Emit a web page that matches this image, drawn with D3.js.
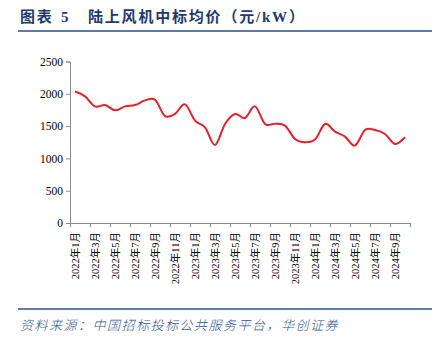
<!DOCTYPE html>
<html><head><meta charset="utf-8">
<script src="https://cdn.jsdelivr.net/npm/d3@7"></script>
<style>
html,body{margin:0;padding:0;background:#fff;}
svg{display:block;}
</style></head>
<body>
<svg id="chart" width="444" height="345"></svg>
<script>
const months = ["2022年1月","2022年2月","2022年3月","2022年4月","2022年5月","2022年6月","2022年7月","2022年8月","2022年9月","2022年10月","2022年11月","2022年12月",
"2023年1月","2023年2月","2023年3月","2023年4月","2023年5月","2023年6月","2023年7月","2023年8月","2023年9月","2023年10月","2023年11月","2023年12月",
"2024年1月","2024年2月","2024年3月","2024年4月","2024年5月","2024年6月","2024年7月","2024年8月","2024年9月","2024年10月"];
const prices = [2035,1960,1805,1826,1744,1805,1826,1898,1909,1655,1690,1836,
1585,1481,1209,1533,1687,1625,1805,1533,1538,1507,1301,1250,
1291,1533,1415,1338,1199,1440,1440,1378,1224,1327];
const yTicks = [0,500,1000,1500,2000,2500];
const titleParts = ["图表", "5", "陆上风机中标均价（元/kW）"];
const sourceText = "资料来源：中国招标投标公共服务平台，华创证券";

const svg = d3.select("#chart");
const navy = "#1F3A6E";

// title
const tfont = "'Liberation Serif','Noto Sans CJK SC',serif";
[[20,0],[61,1],[88,2]].forEach(([tx,i])=>{
  svg.append("text").attr("x",tx).attr("y",22)
    .attr("font-family",tfont).attr("font-weight","bold").attr("font-size",15)
    .attr("letter-spacing",i===1?0:1.8).attr("fill",navy)
    .text(titleParts[i]);
});
svg.append("line").attr("x1",18).attr("x2",432).attr("y1",31).attr("y2",31)
  .attr("stroke","#2B4F8C").attr("stroke-width",1.5);

// bottom rule and source
svg.append("line").attr("x1",18).attr("x2",432).attr("y1",309).attr("y2",309)
  .attr("stroke","#2B4F8C").attr("stroke-width",1.5);
svg.append("text").attr("x",20).attr("y",330)
  .attr("font-family","'Noto Sans CJK SC',sans-serif").attr("font-weight",300)
  .attr("font-style","italic").attr("font-size",13).attr("letter-spacing",1.5).attr("fill","#2F5496")
  .text(sourceText);

const x = d3.scaleBand().domain(months).range([70,410]).paddingInner(0).paddingOuter(0);
const y = d3.scaleLinear().domain([0,2500]).range([223,61.5]);

// y axis
const yAxis = svg.append("g").attr("transform","translate(70,0)")
  .call(d3.axisLeft(y).tickValues(yTicks).tickFormat(d3.format("d")).tickSize(4).tickPadding(3));
yAxis.selectAll("path,line").attr("stroke","#8c8c8c");
yAxis.selectAll("text").attr("font-family","'Liberation Serif',serif").attr("font-size",11.5).attr("fill","#000");

// x axis: ticks at category boundaries every 2 months
const xg = svg.append("g");
xg.append("line").attr("x1",70).attr("x2",410).attr("y1",223.5).attr("y2",223.5).attr("stroke","#8c8c8c");
const boundaries = months.filter((m,i)=>i%2===0).map(m=>x(m)).concat([x.range()[1]]);
xg.selectAll("line.tk").data(boundaries).enter().append("line").attr("class","tk")
  .attr("x1",d=>d+0.5).attr("x2",d=>d+0.5).attr("y1",223).attr("y2",227).attr("stroke","#8c8c8c");
xg.selectAll("text").data(months.filter((m,i)=>i%2===0)).enter().append("text")
  .attr("transform",d=>`translate(${x(d)+x.bandwidth()/2+3.5},232) rotate(-90)`)
  .attr("text-anchor","end")
  .attr("font-family","'Liberation Serif','Noto Sans CJK SC',serif")
  .attr("font-size",10.5).attr("fill","#000")
  .text(d=>d);

// line
const line = d3.line()
  .x((d,i)=>x(months[i])+x.bandwidth()/2)
  .y(d=>y(d))
  .curve(d3.curveCardinal.tension(0));
svg.append("path").datum(prices).attr("d",line)
  .attr("fill","none").attr("stroke","#E8202A").attr("stroke-width",2);
</script>
</body></html>
